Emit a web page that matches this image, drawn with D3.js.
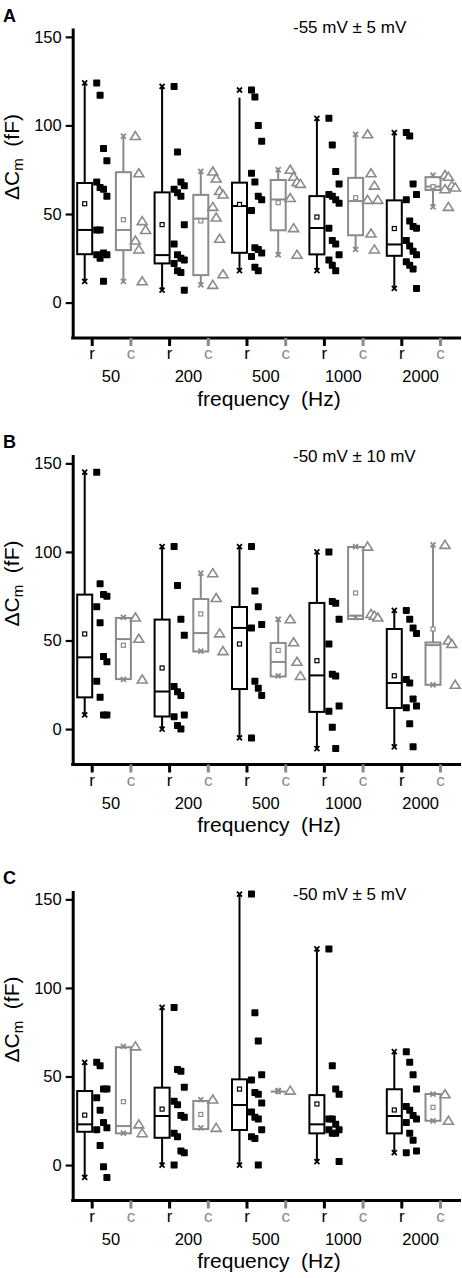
<!DOCTYPE html>
<html><head><meta charset="utf-8">
<script src="https://cdn.jsdelivr.net/npm/d3@7"></script>
<style>
html,body{margin:0;padding:0;background:#fff;}
svg{display:block;font-family:"Liberation Sans",Arial,Helvetica,sans-serif;}
</style></head><body>
<svg id="chart" width="462" height="1278"></svg>
<script>
// ---------- categories & labels ----------
const frequencies = ["50", "200", "500", "1000", "2000"];
const conditions = ["r", "c"];
const panelLetters = ["A", "B", "C"];
const panelTitles = ["-55 mV \u00b1 5 mV", "-50 mV \u00b1 10 mV", "-50 mV \u00b1 5 mV"];
const yTicks = [0, 50, 100, 150];
const xTitle = "frequency  (Hz)";

// slot order: 50r, 50c, 200r, 200c, 500r, 500c, 1000r, 1000c, 2000r, 2000c
// ---------- Panel A ----------
const A_q1     = [27.3, 29.6, 22.1, 15.5, 28.1, 40.8, 27.2, 38.0, 26.4, 63.5];
const A_median = [41, 41, 26.8, 47.4, 54.5, 58.2, 42.1, 57.3, 32.8, 65.5];
const A_q3     = [67.5, 73.6, 62.2, 60.8, 67.7, 69.2, 60.1, 70.4, 57.7, 70.8];
const A_mean   = [55.8, 46.8, 44, 46.1, 55.4, 56.4, 48.3, 59.2, 41.8, 65.5];
const A_whiskerLow  = [12.4, 12.4, 7.1, 9.4, 17.9, 26.8, 17.9, 29.2, 8.2, 53.6];
const A_whiskerHigh = [123.6, 93.3, 122.3, 74.2, 115.7, 75.1, 104.1, 94.8, 95.7, 71.3];
const A_points = [
  [124, 117, 87, 80, 68, 65, 64, 60, 41, 41, 28, 27, 27, 25, 12],
  [94, 73, 46, 41, 35, 30, 12],
  [122, 85, 68, 66, 64, 62, 60, 44, 33, 27, 25, 24, 22, 18, 17, 7],
  [74, 70, 63, 61, 54, 48, 36, 16, 10],
  [120, 116, 100, 91, 73, 68, 60, 58, 52, 31, 30, 28, 26, 20, 18],
  [75, 71, 68, 67, 59, 42, 27],
  [104, 89, 74, 67, 61, 60, 58, 56, 42, 35, 33, 27, 24, 21, 18],
  [95, 73, 66, 58, 58, 39, 30],
  [96, 94, 67, 61, 58, 46, 43, 42, 35, 32, 29, 27, 23, 21, 19, 8],
  [72, 71, 66, 65, 64, 54]
];
// ---------- Panel B ----------
const B_q1     = [17.9, 28.2, 7.1, 43.8, 22.6, 29.7, 9.7, 62.1, 11.9, 25];
const B_median = [40.5, 50.8, 21.2, 54.2, 57.1, 37.9, 30.3, 64, 26, 47.4];
const B_q3     = [75.9, 62.7, 61.8, 73.4, 68.9, 48.6, 71.2, 102.8, 56.5, 48.9];
const B_mean   = [53.7, 47.3, 34.5, 65, 48, 44.4, 38.6, 76.8, 30.1, 56.5];
const B_whiskerLow  = [7.5, 28.2, 0, 43.8, -4.5, 29.7, -10.7, 62.1, -9.8, 25];
const B_whiskerHigh = [145.2, 62.7, 102.8, 88.1, 103.2, 61.4, 100, 102.8, 67.4, 103.2];
const B_points = [
  [145, 82, 76, 75, 69, 60, 41, 38, 27, 18, 8, 8],
  [63, 51, 28],
  [103, 81, 62, 53, 24, 21, 19, 8, 7, 2, 0],
  [88, 74, 54, 44],
  [103, 78, 69, 59, 57, 27, 23, 19, -5],
  [62, 49, 38, 30],
  [100, 72, 71, 62, 48, 31, 30, 13, 10, 1, -11],
  [103, 65, 64, 63],
  [67, 62, 57, 54, 28, 26, 17, 13, 12, 3, -10],
  [104, 50, 48, 25]
];
// ---------- Panel C ----------
const C_q1     = [18.8, 17.9, 15.4, 20.3, 19.8, 41.5, 17.9, null, 17.9, 25];
const C_median = [23, 22, 27.7, null, 33.9, 41.5, 23, null, 27.7, null];
const C_q3     = [41.8, 66.5, 43.7, 36.2, 48.4, 41.5, 39.5, null, 42.8, 40.1];
const C_mean   = [28.2, 35.8, 31.6, 28.6, 42.9, 41.5, 34.5, null, 31.1, 32.6];
const C_whiskerLow  = [-7, 17.9, 0, 20.3, 0, 41.5, 2.4, null, 7.5, 25];
const C_whiskerHigh = [57.4, 66.5, 89.1, 36.2, 153.1, 41.5, 121.5, null, 64, 40.1];
const C_points = [
  [58, 56, 43, 43, 38, 31, 24, 21, 20, 11, -1, -7],
  [67, 23, 18],
  [89, 54, 53, 44, 36, 34, 28, 27, 18, 16, 8, 7, 0],
  [37, 21],
  [153, 86, 70, 51, 48, 41, 40, 35, 30, 27, 26, 20, 16, 15, 0],
  [42],
  [122, 56, 43, 40, 26, 26, 23, 20, 20, 18, 18, 2],
  [],
  [64, 58, 51, 43, 33, 31, 28, 26, 24, 18, 14, 8, 7],
  [40, 25]
];

const panels = [
  {q1: A_q1, med: A_median, q3: A_q3, mean: A_mean, lo: A_whiskerLow, hi: A_whiskerHigh, pts: A_points},
  {q1: B_q1, med: B_median, q3: B_q3, mean: B_mean, lo: B_whiskerLow, hi: B_whiskerHigh, pts: B_points},
  {q1: C_q1, med: C_median, q3: C_q3, mean: C_mean, lo: C_whiskerLow, hi: C_whiskerHigh, pts: C_points}
];

// ---------- layout ----------
const tops = [28, 454.5, 890.5];
const titleDy = [5, 7, 9];
const H = 310;
const axisX = 72.7;
const BLACK = "#000";
const GRAY = "#8a8a8a";

const svg = d3.select("#chart");
const slots = frequencies.flatMap(f => conditions.map(c => f + "_" + c));
const x = d3.scalePoint().domain(slots).range([91.7, 440]);
const colorOf = s => s.endsWith("_r") ? BLACK : GRAY;

panels.forEach((P, pi) => {
  const top = tops[pi];
  const bottom = top + H;
  const y = d3.scaleLinear().domain([-20, 155]).range([bottom, top]);
  const g = svg.append("g");

  // panel letter
  g.append("text").attr("x", 3).attr("y", top - 6.5)
    .attr("font-size", 18).attr("font-weight", "bold").text(panelLetters[pi]);
  // condition title
  g.append("text").attr("x", 293).attr("y", top + titleDy[pi])
    .attr("font-size", 17).text(panelTitles[pi]);

  // y axis
  const ya = g.append("g").attr("transform", `translate(${axisX},0)`)
    .call(d3.axisLeft(y).tickValues(yTicks).tickSize(7).tickSizeOuter(0).tickPadding(4));
  ya.select(".domain").attr("stroke-width", 3).attr("stroke", BLACK);
  ya.selectAll(".tick line").attr("stroke-width", 2.2).attr("stroke", BLACK);
  ya.selectAll(".tick text").attr("font-size", 16.5).attr("fill", BLACK)
    .attr("font-family", "'Liberation Sans',Arial,sans-serif");

  // x axis
  g.append("line").attr("x1", axisX - 1.5).attr("x2", 461).attr("y1", bottom).attr("y2", bottom)
    .attr("stroke", BLACK).attr("stroke-width", 3);
  const xa = g.append("g").attr("transform", `translate(0,${bottom})`)
    .call(d3.axisBottom(x).tickSize(8).tickSizeOuter(0).tickFormat(d => d.split("_")[1]));
  xa.select(".domain").remove();
  xa.selectAll(".tick line").attr("stroke-width", 3).attr("stroke", d => colorOf(d));
  xa.selectAll(".tick text").attr("font-size", 17).attr("dy", null).attr("y", 21)
    .attr("fill", d => colorOf(d)).attr("font-family", "'Liberation Sans',Arial,sans-serif");

  // frequency labels
  g.selectAll("text.freq").data(frequencies).join("text").attr("class", "freq")
    .attr("x", f => (x(f + "_r") + x(f + "_c")) / 2).attr("y", bottom + 44)
    .attr("text-anchor", "middle").attr("font-size", 16.5).text(f => f);

  // x title
  g.append("text").attr("x", 269).attr("y", bottom + 67.5).attr("text-anchor", "middle")
    .attr("font-size", 21).style("white-space", "pre").text(xTitle);

  // y title
  const yt = g.append("text").attr("transform", `translate(19,${top + 129}) rotate(-90)`)
    .attr("text-anchor", "middle").attr("font-size", 21).style("white-space", "pre");
  yt.append("tspan").text("\u0394C");
  yt.append("tspan").attr("font-size", 15).attr("dy", 4).text("m");
  yt.append("tspan").attr("dy", -4).text("  (fF)");

  // boxes
  slots.forEach((s, i) => {
    const col = colorOf(s);
    const tx = x(s);
    const cx = tx - 7;
    const pts = P.pts[i].slice().sort((a, b) => b - a);
    if (P.q1[i] !== null) {
      // whiskers
      g.append("line").attr("x1", cx).attr("x2", cx).attr("y1", y(P.q3[i])).attr("y2", y(P.hi[i]))
        .attr("stroke", col).attr("stroke-width", 2);
      g.append("line").attr("x1", cx).attr("x2", cx).attr("y1", y(P.q1[i])).attr("y2", y(P.lo[i]))
        .attr("stroke", col).attr("stroke-width", 2);
      // box
      g.append("rect").attr("x", tx - 14.5).attr("width", 15)
        .attr("y", y(P.q3[i])).attr("height", Math.max(0, y(P.q1[i]) - y(P.q3[i])))
        .attr("fill", "none").attr("stroke", col).attr("stroke-width", 2);
      // median
      if (P.med[i] !== null) {
        g.append("line").attr("x1", tx - 14.5).attr("x2", tx + 0.5)
          .attr("y1", y(P.med[i])).attr("y2", y(P.med[i]))
          .attr("stroke", col).attr("stroke-width", 2);
      }
      // mean
      g.append("rect").attr("x", cx - 2).attr("y", y(P.mean[i]) - 2).attr("width", 4).attr("height", 4)
        .attr("fill", "#fff").attr("stroke", col).attr("stroke-width", 1.2);
      // min / max markers
      const ext = d3.extent(pts);
      ext.forEach(v => {
        const yy = y(v);
        g.append("path").attr("d", `M${cx - 2.5},${yy - 2.5}L${cx + 2.5},${yy + 2.5}M${cx + 2.5},${yy - 2.5}L${cx - 2.5},${yy + 2.5}`)
          .attr("stroke", col).attr("stroke-width", 1.8).attr("fill", "none");
      });
    }
    // data points
    pts.forEach((v, j) => {
      const px = tx + 5 + (j % 4) * 3.4;
      const py = y(v);
      if (s.endsWith("_r")) {
        g.append("rect").attr("x", px - 3.5).attr("y", py - 3.5).attr("width", 7).attr("height", 7)
          .attr("rx", 0.8).attr("fill", BLACK);
      } else {
        g.append("path").attr("d", `M${px},${py - 4.5}L${px + 5},${py + 3.5}L${px - 5},${py + 3.5}Z`)
          .attr("fill", "#fff").attr("stroke", GRAY).attr("stroke-width", 1.6);
      }
    });
  });
});
</script>
</body></html>
